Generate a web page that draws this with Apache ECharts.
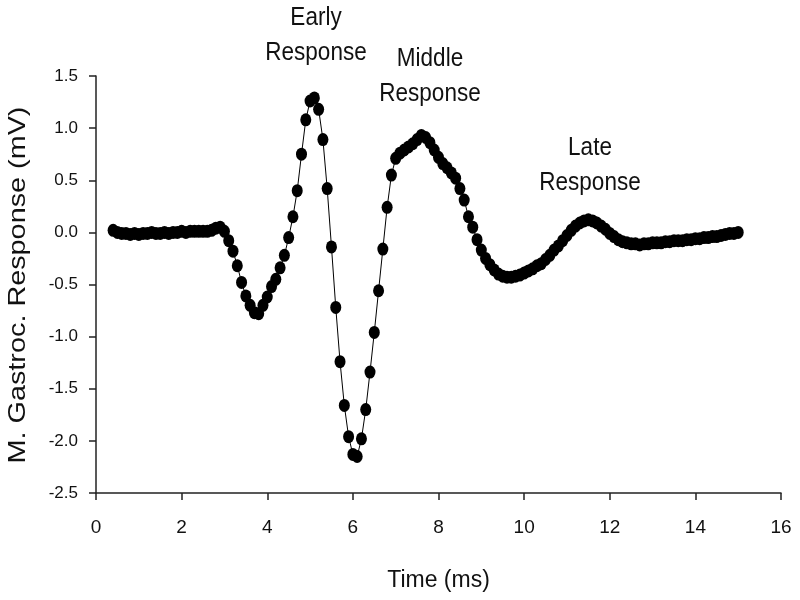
<!DOCTYPE html>
<html>
<head>
<meta charset="utf-8">
<script src="https://cdn.jsdelivr.net/npm/echarts@6/dist/echarts.min.js"></script>
<style>
  html, body { margin: 0; padding: 0; background: #fff; }
  #chart { width: 800px; height: 600px; }
</style>
</head>
<body>
<div id="chart"></div>
<script>
// sample times, 0.1 ms apart from 0.4 to 15.0
const startTime = 0.4;
const stepTime = 0.1;

// response values (mV)
const response = [
  0.02, 0.0, -0.01, -0.01, -0.02, -0.01, -0.02, -0.01, -0.01, 0.0,
  -0.01, -0.01, 0.0, -0.01, 0.0, 0.0, 0.01, 0.0, 0.01, 0.01,
  0.01, 0.01, 0.01, 0.02, 0.04, 0.05, 0.01, -0.08, -0.18, -0.32,
  -0.48, -0.61, -0.70, -0.77, -0.78, -0.70, -0.62, -0.52, -0.45, -0.34,
  -0.22, -0.05, 0.15, 0.40, 0.75, 1.08, 1.26, 1.29, 1.18, 0.89,
  0.42, -0.14, -0.72, -1.24, -1.66, -1.96, -2.13, -2.15, -1.98, -1.70,
  -1.34, -0.96, -0.56, -0.16, 0.24, 0.55, 0.71, 0.76, 0.79, 0.82,
  0.85, 0.89, 0.93, 0.91, 0.86, 0.79, 0.72, 0.66, 0.62, 0.57,
  0.52, 0.42, 0.31, 0.15, 0.05, -0.07, -0.17, -0.25, -0.31, -0.36,
  -0.40, -0.42, -0.43, -0.43, -0.42, -0.41, -0.39, -0.37, -0.35, -0.32,
  -0.30, -0.26, -0.22, -0.17, -0.13, -0.08, -0.03, 0.02, 0.06, 0.09,
  0.11, 0.12, 0.11, 0.09, 0.06, 0.03, -0.01, -0.04, -0.07, -0.09,
  -0.10, -0.11, -0.11, -0.12, -0.11, -0.11, -0.10, -0.10, -0.10, -0.09,
  -0.09, -0.08, -0.08, -0.08, -0.07, -0.07, -0.06, -0.06, -0.05, -0.05,
  -0.04, -0.04, -0.03, -0.02, -0.01, -0.01, 0.0
];

// annotation labels
const labels = [
  { text: 'Early\nResponse', x: 316, y: 36 },
  { text: 'Middle\nResponse', x: 430, y: 77 },
  { text: 'Late\nResponse', x: 590, y: 166 }
];

const yTitle = 'M. Gastroc. Response (mV)';

const points = response.map((v, i) => [+(startTime + i * stepTime).toFixed(1), v]);

const chart = echarts.init(document.getElementById('chart'));

const option = {
  animation: false,
  backgroundColor: '#fff',
  grid: { left: 96, right: 19, top: 76, bottom: 107 },
  xAxis: {
    type: 'value',
    min: 0,
    max: 16,
    interval: 2,
    name: 'Time (ms)',
    nameLocation: 'middle',
    nameGap: 76,
    nameTextStyle: { fontFamily: 'Liberation Sans', fontSize: 23, color: '#111' },
    axisLine: { show: true, onZero: false, lineStyle: { color: '#222', width: 1.5 } },
    axisTick: { show: true, inside: false, length: 7, lineStyle: { color: '#222', width: 1.5 } },
    axisLabel: { fontFamily: 'Liberation Sans', fontSize: 19, color: '#111', margin: 25 },
    splitLine: { show: false }
  },
  yAxis: {
    type: 'value',
    min: -2.5,
    max: 1.5,
    interval: 0.5,
    axisLine: { show: true, lineStyle: { color: '#222', width: 1.5 } },
    axisTick: { show: true, inside: false, length: 7, lineStyle: { color: '#222', width: 1.5 } },
    axisLabel: {
      fontFamily: 'Liberation Sans',
      fontSize: 17,
      color: '#111',
      margin: 18,
      formatter: v => v.toFixed(1)
    },
    splitLine: { show: false }
  },
  graphic: labels.map(l => ({
    type: 'text',
    x: l.x,
    y: l.y,
    scaleX: 0.9,
    style: {
      text: l.text,
      fontFamily: 'Liberation Sans',
      fontSize: 25,
      lineHeight: 35,
      fill: '#111',
      align: 'center',
      verticalAlign: 'middle'
    }
  })).concat([{
    type: 'text',
    x: 18,
    y: 285,
    rotation: Math.PI / 2,
    scaleX: 1.2,
    style: {
      text: yTitle,
      fontFamily: 'Liberation Sans',
      fontSize: 24,
      fill: '#111',
      align: 'center',
      verticalAlign: 'middle'
    }
  }]),
  series: [
    {
      type: 'line',
      data: points,
      symbol: 'circle',
      symbolSize: [11, 13],
      itemStyle: { color: '#000' },
      lineStyle: { color: '#000', width: 1 }
    }
  ]
};

chart.setOption(option);
</script>
</body>
</html>
